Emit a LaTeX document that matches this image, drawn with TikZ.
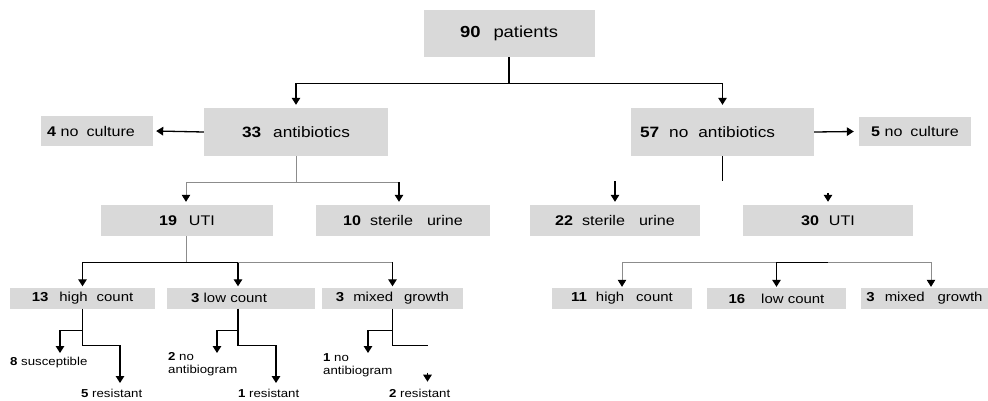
\documentclass[tikz,border=0pt]{standalone}
\usepackage{fontspec}
\setmainfont{Liberation Sans}[FakeStretch=1.15]
\usetikzlibrary{arrows.meta}
\definecolor{boxgray}{HTML}{D9D9D9}
\definecolor{linegray}{HTML}{8C8C8C}
\begin{document}
\begin{tikzpicture}[x=1pt,y=-1pt,
  bx/.style 2 args={fill=boxgray, inner sep=0pt, anchor=center, minimum width=#1pt, minimum height=#2pt},
  fA/.style={font=\fontsize{16}{19}\selectfont},
  fB/.style={font=\fontsize{15}{18}\selectfont},
  fC/.style={font=\fontsize{14}{17}\selectfont},
  fD/.style={font=\fontsize{13}{15}\selectfont},
  leaf/.style={font=\fontsize{11.5}{13.5}\selectfont, inner sep=0pt, anchor=west, align=left},
  dline/.style={line width=1.3pt, black},
  gline/.style={line width=0.8pt, linegray},
  tip/.style={-{Triangle[width=8.5pt,length=7pt,color=black]}},
]
\fill[white] (0,0) rectangle (988,400);
\useasboundingbox (0,0) rectangle (988,400);

% boxes
\node[bx={171}{47}, fA] (p90) at (509,33.5) {\textbf{90}\hspace{13pt}patients};
\node[bx={184}{48}, fB] (a33) at (296,132) {\textbf{33}\hspace{12pt}antibiotics};
\node[bx={112}{30}, fC, text width=100pt, align=left] (nc4) at (97,131) {\textbf{4} no\hspace{8pt}culture};
\node[bx={183}{48}, fB, text width=165pt, align=left] (n57) at (722.5,132) {\textbf{57}\hspace{10pt}no\hspace{10pt}antibiotics};
\node[bx={112}{29}, fC] (nc5) at (915,131.5) {\textbf{5} no\hspace{8pt}culture};

\node[bx={172}{31}, fC] (u19) at (187,220.5) {\textbf{19}\hspace{12pt}UTI};
\node[bx={174}{31}, fC] (s10) at (403,220.5) {\textbf{10}\hspace{9pt}sterile\hspace{14pt}urine};
\node[bx={170}{31}, fC] (s22) at (615,220.5) {\textbf{22}\hspace{9pt}sterile\hspace{14pt}urine};
\node[bx={170}{31}, fC] (u30) at (828,220.5) {\textbf{30}\hspace{10pt}UTI};

\node[bx={145}{21}, fD] (h13) at (82.5,298) {\textbf{13}\hspace{11pt}high\hspace{9pt}count};
\node[bx={148}{21}, fD, text width=100pt, align=left] (l3) at (241,298) {\textbf{3} low count};
\node[bx={141}{21}, fD] (m3) at (392.5,298) {\textbf{3}\hspace{9pt}mixed\hspace{11pt}growth};
\node[bx={140}{21}, fD] (h11) at (622,298.5) {\textbf{11}\hspace{9pt}high\hspace{12pt}count};
\node[bx={139}{21}, fD] (l16) at (776.5,298.5) {\textbf{16}\hspace{16pt}low count};
\node[bx={127}{21}, fD] (m3b) at (924.5,298.5) {\textbf{3}\hspace{10pt}mixed\hspace{13pt}growth};

% leaves
\node[leaf] (s8) at (10,363) {\textbf{8} susceptible};
\node[leaf] (r5) at (81,393) {\textbf{5} resistant};
\node[leaf] (nb2) at (168,364) {\textbf{2} no\\antibiogram};
\node[leaf] (r1) at (238,393) {\textbf{1} resistant};
\node[leaf] (nb1) at (323,365) {\textbf{1} no\\antibiogram};
\node[leaf] (r2) at (389,393) {\textbf{2} resistant};

\coordinate (t8) at (60,353);
\coordinate (t5) at (120,383);
\coordinate (t2) at (217,353);
\coordinate (t1) at (276,383);
\coordinate (t1b) at (368,353);

% top split
\draw[dline] (p90.south) -- ++(0,26) coordinate (j0);
\draw[dline,tip] (j0) -| ([yshift=3pt]a33.north);
\draw[dline,tip] (j0) -| ([yshift=3pt]n57.north);

% no culture
\draw[dline,tip] (a33.west) -- ([xshift=3pt]nc4.east);
\draw[dline,tip] (n57.east) -- ([xshift=-5pt]nc5.west);

% under antibiotics
\draw[gline] (a33.south) -- ++(0,26) coordinate (j33);
\draw[gline,tip] (j33) -| ([xshift=-1pt,yshift=3pt]u19.north);
\draw[gline] (j33) -- ([xshift=-4pt]s10.north |- j33);
\draw[dline,tip] ([xshift=-4pt]s10.north |- j33) -- ([xshift=-4pt,yshift=3pt]s10.north);

% under no antibiotics
\draw[dline] (n57.south) -- ++(0,25) coordinate (j57);
\draw[dline,tip] (s22.north |- j57) -- ([yshift=3pt]s22.north);
\draw[dline,tip] ([yshift=12pt]u30.north) -- ([yshift=3pt]u30.north);

% under 19 UTI
\draw[gline] ([xshift=-1pt]u19.south) -- ++(0,26) coordinate (j19);
\draw[dline,tip] (j19) -| ([xshift=-3pt,yshift=1pt]l3.north);
\draw[dline,tip] (j19) -| ([yshift=1pt]h13.north);
\draw[gline] ([xshift=-3pt]l3.north |- j19) -- (m3.north |- j19);
\draw[dline,tip] (m3.north |- j19) -- ([yshift=1pt]m3.north);

% under 30 UTI
\path (u30.south) -- ++(0,26) coordinate (j30);
\draw[gline] (h11.north |- j30) -- ([xshift=6.5pt]m3b.north |- j30);
\draw[dline] (l16.north |- j30) -- (j30);
\draw[gline,tip] (h11.north |- j30) -- ([yshift=1pt]h11.north);
\draw[dline,tip] (l16.north |- j30) -- ([yshift=1pt]l16.north);
\draw[gline,tip] ([xshift=6.5pt]m3b.north |- j30) -- ([xshift=6.5pt,yshift=1pt]m3b.north);

% leaves under 13 high count
\draw[dline] (h13.south) -- ++(0,37) coordinate (e13);
\draw[dline,tip] ([yshift=-22pt]h13.south) -| (t8);
\draw[dline,tip] (e13) -| (t5);

% leaves under 3 low count
\draw[dline] ([xshift=-3pt]l3.south) -- ++(0,37) coordinate (e3);
\draw[dline,tip] ([xshift=-3pt,yshift=-22pt]l3.south) -| (t2);
\draw[dline,tip] (e3) -| (t1);

% leaves under 3 mixed growth
\draw[dline] (m3.south) -- ++(0,37) coordinate (e3m);
\draw[dline,tip] ([yshift=-22pt]m3.south) -| (t1b);
\draw[dline] (e3m) -- ++(35,0) coordinate (f3m);
\draw[dline,tip] ([yshift=-27pt]f3m) -- ++(0,9) coordinate (t2b);
\end{tikzpicture}
\end{document}
